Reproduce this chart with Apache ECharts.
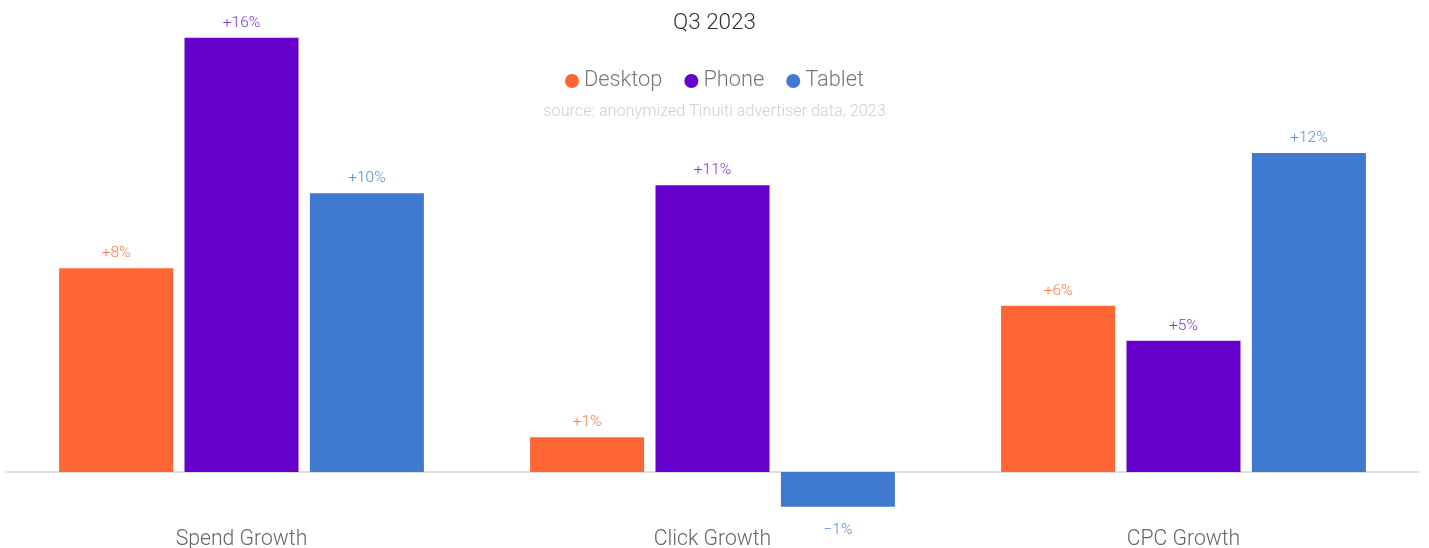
<!DOCTYPE html>
<html>
<head>
<meta charset="utf-8">
<script src="https://cdn.jsdelivr.net/npm/echarts@6/dist/echarts.min.js"></script>
<style>
  html, body { margin: 0; padding: 0; background: #fff; }
  #chart { width: 1429px; height: 548px; }
</style>
</head>
<body>
<div id="chart"></div>
<script>
// Year-over-year growth by device, Q3 2023 (percent)
const categories = ['Spend Growth', 'Click Growth', 'CPC Growth'];
const desktop = [7.6, 1.3, 6.2];
const phone = [16.2, 10.7, 4.9];
const tablet = [10.4, -1.3, 11.9];

const seriesNames = ['Desktop', 'Phone', 'Tablet'];
const barColors = ['#ff6633', '#6600cc', '#4079d0'];
const labelColors = ['#ff7a4d', '#8030dc', '#5a8cdb'];

const FONT = 'Roboto, "Noto Sans", sans-serif';

function fmt(v) {
  const r = Math.round(v);
  return (r < 0 ? '\u2212' + Math.abs(r) : '+' + r) + '%';
}

function makeSeries(name, values, i) {
  return {
    name: name,
    type: 'bar',
    xAxisIndex: 0,
    barWidth: 114,
    barGap: '10%',
    itemStyle: { color: barColors[i] },
    label: {
      show: true,
      position: 'top',
      distance: 7,
      color: labelColors[i],
      fontFamily: FONT,
      fontWeight: 300,
      fontSize: 15.5,
      formatter: p => fmt(p.value)
    },
    data: values.map(v => v < 0
      ? { value: v, label: { position: 'bottom', distance: 15 } }
      : v)
  };
}

const chart = echarts.init(document.getElementById('chart'), null, { renderer: 'canvas' });
chart.setOption({
  animation: false,
  title: [
    {
      text: 'Q3 2023',
      left: 'center',
      top: 7,
      textStyle: { fontFamily: FONT, fontSize: 22.5, fontWeight: 300, color: '#333' }
    },
    {
      text: 'source: anonymized Tinuiti advertiser data, 2023',
      left: 'center',
      top: 99,
      textStyle: { fontFamily: FONT, fontSize: 16.2, fontWeight: 300, color: '#cfcfcf' }
    }
  ],
  legend: {
    top: 65,
    left: 'center',
    icon: 'circle',
    itemWidth: 14,
    itemHeight: 14,
    itemGap: 22,
    textStyle: { fontFamily: FONT, fontSize: 21.8, fontWeight: 300, color: '#777' },
    data: seriesNames
  },
  grid: { left: 6, right: 10, top: 16.4, bottom: 22.4, containLabel: false, outerBoundsMode: 'none' },
  xAxis: [
    {
      // zero baseline
      type: 'category',
      data: categories,
      axisTick: { show: false },
      axisLabel: { show: false },
      axisLine: { onZero: true, lineStyle: { color: '#dedede', width: 2 } }
    },
    {
      // category names along the bottom edge
      type: 'category',
      data: categories,
      position: 'bottom',
      axisTick: { show: false },
      axisLine: { show: false, onZero: false },
      axisLabel: {
        margin: 6,
        lineHeight: 16,
        fontFamily: FONT,
        fontSize: 21.2,
        fontWeight: 300,
        color: '#666'
      }
    }
  ],
  yAxis: {
    type: 'value',
    min: -2,
    max: 17,
    show: false,
    splitLine: { show: false }
  },
  series: [
    makeSeries(seriesNames[0], desktop, 0),
    makeSeries(seriesNames[1], phone, 1),
    makeSeries(seriesNames[2], tablet, 2)
  ]
});
</script>
</body>
</html>
